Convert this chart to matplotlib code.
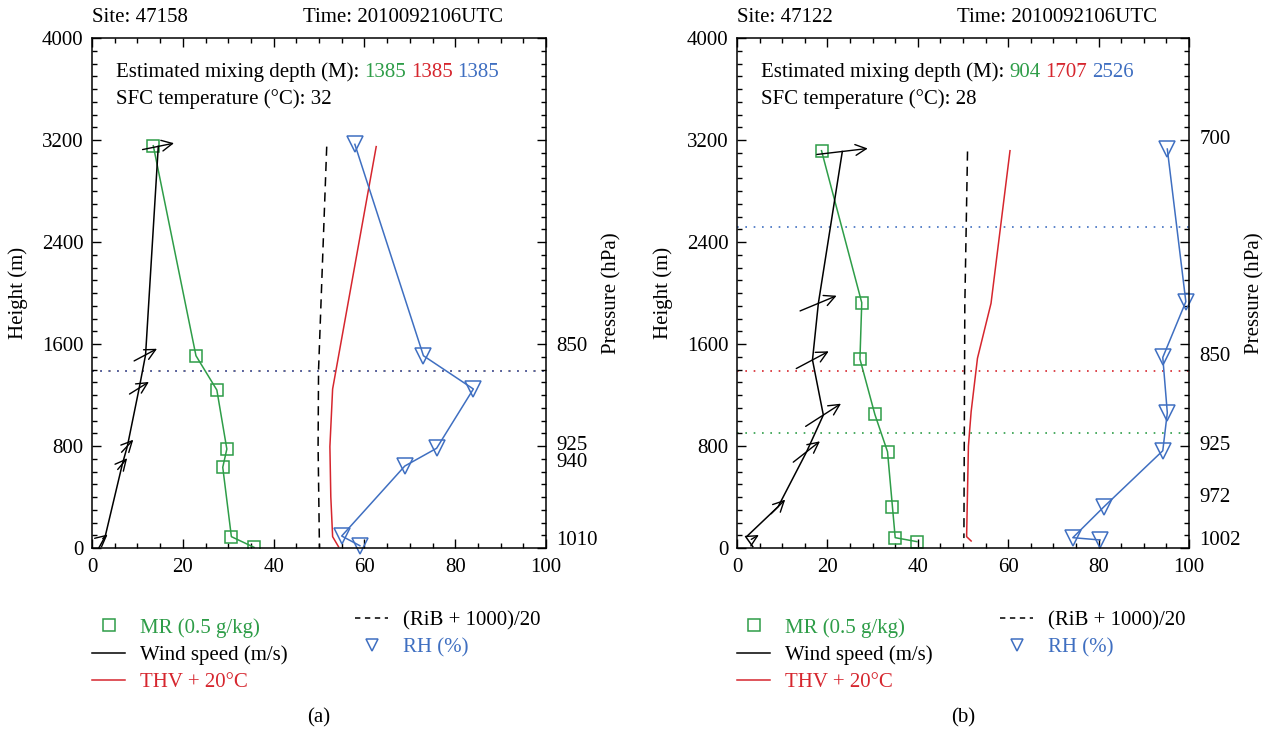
import math
import matplotlib
matplotlib.use('Agg')
import matplotlib.pyplot as plt
from matplotlib.transforms import offset_copy, blended_transform_factory
from matplotlib.lines import Line2D

plt.rcParams['font.family'] = ['Liberation Serif', 'DejaVu Serif']
FS = 15

GREEN = '#2e9d48'
RED = '#d6262e'
BLUE = '#3f6fc1'

# ---------------- Panel (a): site 47158 ----------------
a_site = "47158"
a_time = "2010092106UTC"
a_mix = [1385, 1385, 1385]          # text values (green, red, blue)
a_mix_lines = [1385, 1385, 1385]    # dotted lines drawn (green, red, blue)
a_sfc_t = 32
a_mr_h = [3155, 1508, 1239, 776, 633, 89, 5]
a_mr = [13.5, 22.9, 27.5, 29.7, 28.8, 30.7, 35.7]
a_rh_h = [3166, 1508, 1247, 782, 643, 94, 18]
a_rh = [57.9, 73.0, 84.0, 75.9, 68.9, 55.0, 59.0]
a_thv_h = [3148, 1247, 795, 402, 89, 10]
a_thv = [62.6, 53.0, 52.4, 52.6, 53.0, 54.3]
a_rib_h = [3148, 1396, 795, 0]
a_rib = [51.7, 49.9, 49.8, 50.1]
a_ws_h = [3150, 1515, 1255, 800, 660, 90, 0]
a_ws = [14.6, 11.8, 10.4, 7.8, 6.7, 2.9, 1.5]
a_arrow_h = [3150, 1515, 1255, 800, 660, 90]
a_arrow_ws = [14.6, 11.8, 10.4, 7.8, 6.7, 2.9]
a_arrow_dir = [11.5, 28, 32, 47, 50, 40]     # arrow angle (deg, counter-clockwise from east)
a_p_h = [1580, 800, 670, 57]
a_p_lab = ["850", "925", "940", "1010"]

# ---------------- Panel (b): site 47122 ----------------
b_site = "47122"
b_time = "2010092106UTC"
b_mix = [904, 1707, 2526]
b_mix_lines = [904, 1390, 2520]
b_sfc_t = 28
b_mr_h = [3116, 1924, 1482, 1048, 755, 319, 81, 50]
b_mr = [18.7, 27.6, 27.2, 30.5, 33.3, 34.4, 35.0, 39.8]
b_rh_h = [3129, 1932, 1495, 1061, 763, 324, 81, 63]
b_rh = [95.2, 99.3, 94.2, 95.2, 94.2, 81.2, 74.3, 80.3]
b_thv_h = [3116, 1919, 1488, 1069, 800, 89, 55]
b_thv = [60.4, 56.2, 53.2, 51.8, 51.2, 50.8, 51.8]
b_rib_h = [3110, 1900, 78]
b_rib = [51.0, 50.4, 50.2]
b_ws_h = [3110, 1919, 1475, 1043, 755, 324, 85, 10]
b_ws = [23.3, 18.0, 16.7, 19.1, 15.4, 9.1, 2.0, 3.5]
b_arrow_h = [3110, 1919, 1475, 1043, 755, 324, 85]
b_arrow_ws = [23.3, 18.0, 16.7, 19.1, 15.4, 9.1, 4.0]
b_arrow_dir = [6.7, 22.6, 28, 32.7, 38, 45, 30]
b_p_h = [3200, 1505, 800, 400, 57]
b_p_lab = ["700", "850", "925", "972", "1002"]

fig = plt.figure(figsize=(12.75, 7.33), dpi=100)
W, H = 1275.0, 733.0


def px_ax(x0, x1, ytop, ybot):
    return [x0 / W, 1 - ybot / H, (x1 - x0) / W, (ybot - ytop) / H]


panels = [
    dict(rect=px_ax(92, 546, 38, 548), site=a_site, time=a_time, mix=a_mix, mixl=a_mix_lines,
         sfc=a_sfc_t, mr_h=a_mr_h, mr=a_mr, rh_h=a_rh_h, rh=a_rh, thv_h=a_thv_h, thv=a_thv,
         rib_h=a_rib_h, rib=a_rib, ws_h=a_ws_h, ws=a_ws, ar_h=a_arrow_h, ar_ws=a_arrow_ws,
         ar_dir=a_arrow_dir, p_h=a_p_h, p_lab=a_p_lab, tag="(a)", x0=92, x1=546, time_x=303),
    dict(rect=px_ax(737, 1189, 38, 548), site=b_site, time=b_time, mix=b_mix, mixl=b_mix_lines,
         sfc=b_sfc_t, mr_h=b_mr_h, mr=b_mr, rh_h=b_rh_h, rh=b_rh, thv_h=b_thv_h, thv=b_thv,
         rib_h=b_rib_h, rib=b_rib, ws_h=b_ws_h, ws=b_ws, ar_h=b_arrow_h, ar_ws=b_arrow_ws,
         ar_dir=b_arrow_dir, p_h=b_p_h, p_lab=b_p_lab, tag="(b)", x0=737, x1=1189, time_x=957),
]

for P in panels:
    ax = fig.add_axes(P['rect'])
    ax.set_xlim(0, 100)
    ax.set_ylim(0, 4000)
    ax.set_xticks([0, 20, 40, 60, 80, 100])
    ax.set_xticks(range(0, 101, 5), minor=True)
    ax.set_yticks(range(0, 4001, 800))
    ax.set_yticks(range(0, 4001, 100), minor=True)
    ax.tick_params(which='both', direction='in', top=True, right=True, labelsize=FS,
                   width=1.0, colors='black')
    ax.tick_params(which='major', length=6.5)
    ax.tick_params(axis='x', which='major', pad=7)
    ax.tick_params(axis='y', which='major', pad=6)
    ax.tick_params(which='minor', length=3.4)
    for s in ax.spines.values():
        s.set_linewidth(1.1)

    # mixing depth dotted lines
    for hh, c in zip(P['mixl'], [GREEN, RED, BLUE]):
        ax.axhline(hh, color=c, lw=1.2, ls=(0, (1, 4)), zorder=1)

    ax.plot(P['rib'], P['rib_h'], color='black', lw=1.1, ls=(0, (6, 4)))
    ax.plot(P['thv'], P['thv_h'], color=RED, lw=1.1)
    ax.plot(P['mr'], P['mr_h'], color=GREEN, lw=1.1, marker='s', ms=9,
            mfc='none', mec=GREEN, mew=1.1)
    ax.plot(P['rh'], P['rh_h'], color=BLUE, lw=1.1, marker='v', ms=11,
            mfc='none', mec=BLUE, mew=1.1, clip_on=False)
    ax.plot(P['ws'], P['ws_h'], color='black', lw=1.1, clip_on=False)

    # wind arrows (centred on the profile point, length proportional to speed)
    for hh, sp, dd in zip(P['ar_h'], P['ar_ws'], P['ar_dir']):
        L = 2.2 * sp * 72 / 100.0  # points
        dx = L * math.cos(math.radians(dd))
        dy = L * math.sin(math.radians(dd))
        tail = offset_copy(ax.transData, fig=fig, x=-dx / 2, y=-dy / 2, units='points')
        head = offset_copy(ax.transData, fig=fig, x=dx / 2, y=dy / 2, units='points')
        ax.annotate('', xy=(sp, hh), xycoords=head, xytext=(sp, hh), textcoords=tail,
                    arrowprops=dict(arrowstyle='->,head_length=0.6,head_width=0.3',
                                    color='black', lw=1.0, shrinkA=0, shrinkB=0,
                                    mutation_scale=13), annotation_clip=False)

    # pressure labels on the right
    tr = blended_transform_factory(ax.transAxes, ax.transData)
    for hh, lab in zip(P['p_h'], P['p_lab']):
        ax.text(1.023, hh, lab, transform=tr, ha='left', va='center', fontsize=FS)

    width_px = P['x1'] - P['x0']
    ax.text(-(74.0) / width_px, 0.5, 'Height (m)', transform=ax.transAxes, rotation=90,
            ha='center', va='center', fontsize=FS)
    ax.text((612.0 - 92) / 454, 0.5, 'Pressure (hPa)', transform=ax.transAxes, rotation=90,
            ha='center', va='center', fontsize=FS)

    # header
    fig.text(P['x0'] / W, 1 - 22 / H, 'Site: ' + P['site'], ha='left', va='baseline', fontsize=FS)
    fig.text(P['time_x'] / W, 1 - 22 / H, 'Time: ' + P['time'], ha='left', va='baseline', fontsize=FS)

    # in-plot annotations
    t0 = ax.text(0.053, 0.933, 'Estimated mixing depth (M):', transform=ax.transAxes,
                 ha='left', va='center', fontsize=FS)
    prev = t0
    for v, c in zip(P['mix'], [GREEN, RED, BLUE]):
        prev = ax.annotate(str(v), xy=(1, 0), xycoords=prev, xytext=(3.5, 0),
                           textcoords='offset points', ha='left', va='bottom',
                           fontsize=FS, color=c)
    ax.text(0.053, 0.880, 'SFC temperature (°C): %d' % P['sfc'], transform=ax.transAxes,
            ha='left', va='center', fontsize=FS)

    # legends
    h1 = [Line2D([], [], color=GREEN, marker='s', ls='none', mfc='none', ms=8, mew=1.1),
          Line2D([], [], color='black', lw=1.1),
          Line2D([], [], color=RED, lw=1.1)]
    l1 = ax.legend(h1, ['MR (0.5 g/kg)', 'Wind speed (m/s)', 'THV + 20°C'],
                   loc='upper left', bbox_to_anchor=(P['x0'] / W, 1 - 618 / H),
                   bbox_transform=fig.transFigure, frameon=False, fontsize=FS,
                   labelcolor=[GREEN, 'black', RED], handlelength=1.6,
                   handletextpad=0.7, labelspacing=0.36, borderpad=0, borderaxespad=0)
    ax.add_artist(l1)
    h2 = [Line2D([], [], color='black', lw=1.1, ls=(0, (3.5, 3))),
          Line2D([], [], color=BLUE, marker='v', ls='none', mfc='none', ms=8, mew=1.1)]
    ax.legend(h2, ['(RiB + 1000)/20', 'RH (%)'],
              loc='upper left', bbox_to_anchor=((P['x0'] + 263) / W, 1 - 611 / H),
              bbox_transform=fig.transFigure, frameon=False, fontsize=FS,
              labelcolor=['black', BLUE], handlelength=1.6,
              handletextpad=0.7, labelspacing=0.36, borderpad=0, borderaxespad=0)

    fig.text((P['x0'] + P['x1']) / 2 / W, 1 - 718 / H, P['tag'], ha='center', va='center',
             fontsize=FS)

fig.savefig('out.png', dpi=100)
